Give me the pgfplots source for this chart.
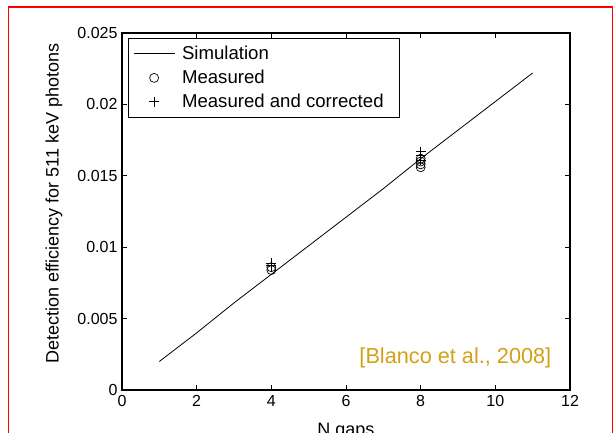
\documentclass[border=0pt]{standalone}
\usepackage{fontspec}
\setmainfont{Liberation Sans}
\usepackage{pgfplots}
\pgfplotsset{compat=1.18}
\definecolor{gold}{RGB}{212,160,23}
\begin{document}
\begin{tikzpicture}[x=1pt,y=1pt]
\useasboundingbox (0,0) rectangle (615,432);
\begin{scope}
\clip (0,0) rectangle (615,432);
\fill[white] (0,0) rectangle (615,432);
\begin{axis}[
  at={(122pt,42pt)}, anchor=south west, scale only axis,
  width=448pt, height=357pt,
  xmin=0, xmax=12, ymin=0, ymax=0.025,
  xtick={0,2,...,12},
  ytick={0,0.005,0.01,0.015,0.02,0.025},
  scaled y ticks=false,
  /pgf/number format/.cd, fixed, precision=3, assume math mode=true, /pgfplots/.cd,
  tick align=inside, major tick length=5pt,
  axis line style={line width=1.2pt},
  tick style={black, line width=0.8pt},
  ticklabel style={font=\fontsize{16}{18}\selectfont},
  xticklabel style={yshift=-2pt},
  yticklabel style={xshift=-1pt},
  xlabel={N gaps},
  ylabel={Detection efficiency for 511 keV photons},
  every axis x label/.style={at={(axis description cs:0.5,-0.093)}, anchor=north, inner sep=0pt, font=\fontsize{18}{20}\selectfont},
  every axis y label/.style={at={(axis description cs:-0.152,0.522)}, anchor=center, rotate=90, inner sep=0pt, font=\fontsize{18}{20}\selectfont},
  legend cell align=left,
  legend image code/.code={\draw[mark repeat=2,mark phase=2,#1] plot coordinates {(0pt,0pt) (20.5pt,0pt) (41pt,0pt)};},
  legend style={at={(axis description cs:0.013,0.986)}, anchor=north west, draw=black, line width=0.8pt,
    font=\fontsize{18.6}{20}\selectfont, inner xsep=5pt, inner ysep=6pt, row sep=5pt,
    /tikz/every odd column/.append style={column sep=5pt}},
]
\addplot[black, line width=0.8pt] coordinates {
  (1,0.0020) (2,0.0040) (3,0.0061) (4,0.0081) (5,0.0101) (6,0.0121)
  (7,0.0141) (8,0.0162) (9,0.0182) (10,0.0202) (11,0.0222)};
\addlegendentry{Simulation}
\addplot[only marks, mark=o, mark size=4.5pt, black, line width=0.7pt, mark options={line width=0.7pt}] coordinates {
  (4,0.0084) (4,0.0086)
  (8,0.0156) (8,0.0158) (8,0.0160) (8,0.0162)};
\addlegendentry{Measured}
\addplot[only marks, mark=+, mark size=5pt, black, line width=0.7pt, mark options={line width=0.7pt}] coordinates {
  (4,0.0087) (4,0.0089)
  (8,0.0161) (8,0.0164) (8,0.0167)};
\addlegendentry{Measured and corrected\rule{9pt}{0pt}}
\node[text=gold, font=\fontsize{21.7}{24}\selectfont, anchor=east, inner sep=0pt] at (axis description cs:0.9587,0.0896) {[Blanco et al., 2008]};
\end{axis}
\draw[red, line width=1.6pt] (8.5,-10) rectangle (612.5,425);
\end{scope}
\end{tikzpicture}
\end{document}
